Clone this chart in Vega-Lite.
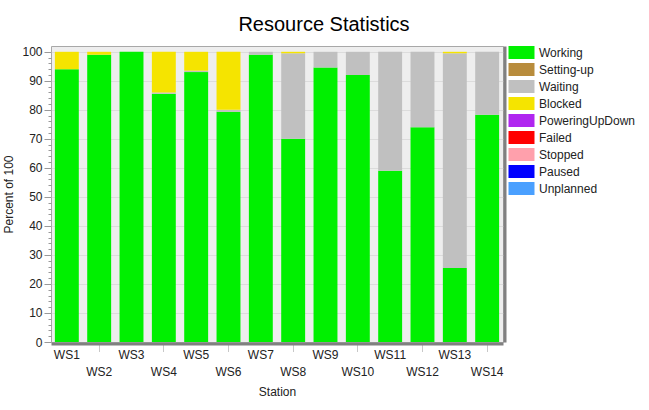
{
  "$schema": "https://vega.github.io/schema/vega-lite/v6.json",
  "width": 452,
  "height": 296,
  "autosize": {"type": "none"},
  "padding": {"left": 51, "top": 46, "right": 146, "bottom": 68},
  "background": "white",
  "title": {"text": "Resource Statistics", "fontSize": 20, "font": "Liberation Sans", "fontWeight": "normal", "color": "#000000", "offset": 11, "dx": 47},
  "config": {"view": {"fill": "#eeeeee", "stroke": "#a8a8a8", "strokeWidth": 1}, "font": "Liberation Sans"},
  "data": {"values": [
    {"station": "WS1", "state": "Working", "value": 94},
    {"station": "WS1", "state": "Blocked", "value": 6},
    {"station": "WS2", "state": "Working", "value": 99},
    {"station": "WS2", "state": "Blocked", "value": 1},
    {"station": "WS3", "state": "Working", "value": 100},
    {"station": "WS4", "state": "Working", "value": 85.5},
    {"station": "WS4", "state": "Waiting", "value": 0.5},
    {"station": "WS4", "state": "Blocked", "value": 14},
    {"station": "WS5", "state": "Working", "value": 93},
    {"station": "WS5", "state": "Waiting", "value": 0.5},
    {"station": "WS5", "state": "Blocked", "value": 6.5},
    {"station": "WS6", "state": "Working", "value": 79.3},
    {"station": "WS6", "state": "Waiting", "value": 0.7},
    {"station": "WS6", "state": "Blocked", "value": 20},
    {"station": "WS7", "state": "Working", "value": 99},
    {"station": "WS7", "state": "Waiting", "value": 1},
    {"station": "WS8", "state": "Working", "value": 70},
    {"station": "WS8", "state": "Waiting", "value": 29.5},
    {"station": "WS8", "state": "Blocked", "value": 0.5},
    {"station": "WS9", "state": "Working", "value": 94.6},
    {"station": "WS9", "state": "Waiting", "value": 5.4},
    {"station": "WS10", "state": "Working", "value": 92},
    {"station": "WS10", "state": "Waiting", "value": 8},
    {"station": "WS11", "state": "Working", "value": 59},
    {"station": "WS11", "state": "Waiting", "value": 41},
    {"station": "WS12", "state": "Working", "value": 74},
    {"station": "WS12", "state": "Waiting", "value": 26},
    {"station": "WS13", "state": "Working", "value": 25.5},
    {"station": "WS13", "state": "Waiting", "value": 74},
    {"station": "WS13", "state": "Blocked", "value": 0.5},
    {"station": "WS14", "state": "Working", "value": 78.3},
    {"station": "WS14", "state": "Waiting", "value": 21.7}
  ]},
  "transform": [
    {"calculate": "indexof(['Working','Setting-up','Waiting','Blocked','PoweringUpDown','Failed','Stopped','Paused','Unplanned'], datum.state)", "as": "ord"}
  ],
  "layer": [
    {
      "mark": {"type": "bar"},
      "encoding": {
        "x": {
          "field": "station", "type": "nominal",
          "sort": ["WS1","WS2","WS3","WS4","WS5","WS6","WS7","WS8","WS9","WS10","WS11","WS12","WS13","WS14"],
          "scale": {"paddingInner": 0.26, "paddingOuter": 0.12},
          "axis": {
            "title": "Station", "titleFontSize": 12, "titleFontWeight": "normal", "titleColor": "#222222", "titlePadding": 9,
            "labelAngle": 0, "labelFontSize": 12, "labelColor": "#222222", "labelPadding": 6, "labelLineHeight": 9,
            "labelExpr": "parseInt(slice(datum.value,2)) % 2 === 0 ? ['', datum.value] : datum.value",
            "tickSize": {"condition": {"test": "parseInt(slice(datum.value,2)) % 2 === 0", "value": 8}, "value": 0},
            "tickColor": "#c8c8c8",
            "domainColor": "#808080", "domainWidth": 3, "offset": 1.5
          }
        },
        "y": {
          "field": "value", "type": "quantitative", "stack": "zero",
          "scale": {"domain": [0, 102], "nice": false},
          "axis": {
            "title": "Percent of 100", "titleFontSize": 12, "titleFontWeight": "normal", "titleColor": "#222222", "titlePadding": 6,
            "values": [0,2,4,6,8,10,12,14,16,18,20,22,24,26,28,30,32,34,36,38,40,42,44,46,48,50,52,54,56,58,60,62,64,66,68,70,72,74,76,78,80,82,84,86,88,90,92,94,96,98,100],
            "labelExpr": "datum.value % 10 === 0 ? datum.label : ''",
            "labelFontSize": 12, "labelColor": "#222222", "labelPadding": 2,
            "tickSize": {"condition": {"test": "datum.value % 10 === 0", "value": 7}, "value": 3},
            "tickColor": "#999999",
            "domain": false,
            "grid": true, "gridColor": "#dcdcdc",
            "gridOpacity": {"condition": {"test": "datum.value % 10 === 0 && datum.value > 0", "value": 1}, "value": 0}
          }
        },
        "color": {
          "field": "state", "type": "nominal",
          "scale": {
            "domain": ["Working","Setting-up","Waiting","Blocked","PoweringUpDown","Failed","Stopped","Paused","Unplanned"],
            "range": ["#00f000","#b88c3c","#c0c0c0","#f5e400","#b026f0","#ff0000","#ffa0ac","#0000ff","#4aa0ff"]
          },
          "legend": {
            "title": null, "orient": "right", "offset": 10, "padding": 0,
            "symbolType": "M-2,-1H2V1H-2Z", "symbolSize": 169, "symbolStrokeWidth": 0, "symbolOpacity": 1,
            "labelFontSize": 12, "labelColor": "#222222", "labelOffset": 11, "rowPadding": 4
          }
        },
        "order": {"field": "ord", "type": "quantitative"}
      }
    },
    {
      "mark": {"type": "rule", "opacity": 0},
      "encoding": {
        "y": {"datum": 0, "type": "quantitative", "axis": {"orient": "right", "domainColor": "#808080", "domainWidth": 3, "offset": 1.5, "ticks": false, "labels": false, "title": null, "grid": false}}
      }
    }
  ],
  "resolve": {"axis": {"y": "independent"}}
}
